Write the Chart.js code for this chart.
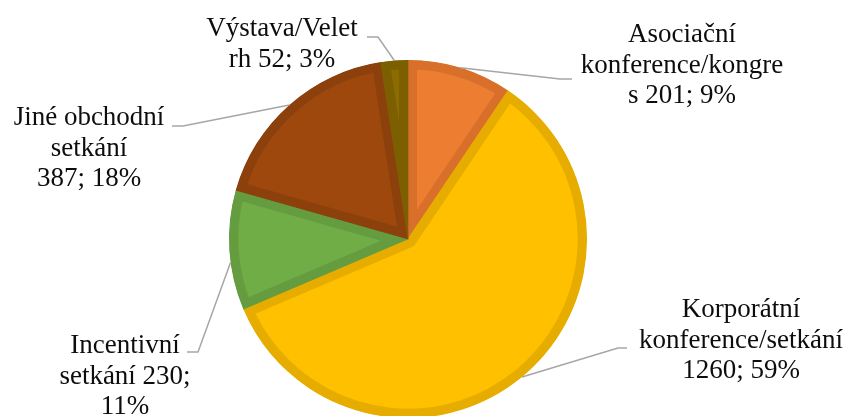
<!DOCTYPE html>
<html>
<head>
<meta charset="utf-8">
<script src="https://cdn.jsdelivr.net/npm/chart.js@4.4.1/dist/chart.umd.min.js"></script>
<style>
  html, body { margin: 0; padding: 0; background: #fff; }
  #wrap { width: 850px; height: 416px; }
</style>
</head>
<body>
<div id="wrap"><canvas id="pieChart" width="850" height="416"></canvas></div>
<script>
// data
const categories = [
  'Asociační konference/kongres',
  'Korporátní konference/setkání',
  'Incentivní setkání',
  'Jiné obchodní setkání',
  'Výstava/Veletrh'
];
const values = [201, 1260, 230, 387, 52];
const percentLabels = ['9%', '59%', '11%', '18%', '3%'];

// label text wrapped as in the picture
const labelLines = [
  ['Asociační', 'konference/kongre', 's 201; 9%'],
  ['Korporátní', 'konference/setkání', '1260; 59%'],
  ['Incentivní', 'setkání 230;', '11%'],
  ['Jiné obchodní', 'setkání', '387; 18%'],
  ['Výstava/Velet', 'rh 52; 3%']
];

const fills = ['#ED7D31', '#FFC000', '#70AD47', '#9E480E', '#8C6B00'];
const borders = ['#D86F2B', '#E6AD00', '#659C40', '#8C400C', '#7C5F00'];

// where the labels sit (text centre x, first baseline) and leader line bends
const labelLayout = [
  { x: 682, y: 42, elbow: [560, 79], end: [572, 79], t: 0.5 },
  { x: 741, y: 317, elbow: [618, 348], end: [627, 348], t: 0.5 },
  { x: 125, y: 353, elbow: [198, 352], end: [187, 352], t: 0.4 },
  { x: 89, y: 125, elbow: [183, 126], end: [172, 126], t: 0.5 },
  { x: 282, y: 36, elbow: [378, 37], end: [367, 37], t: 0.5 }
];

const labelPlugin = {
  id: 'pieLabels',
  afterDraw(chart) {
    const ctx = chart.ctx;
    const arcs = chart.getDatasetMeta(0).data;
    ctx.save();
    arcs.forEach((arc, i) => {
      const p = arc.getProps(['x', 'y', 'startAngle', 'endAngle', 'outerRadius']);
      const lay = labelLayout[i];
      const a = p.startAngle + (p.endAngle - p.startAngle) * lay.t;
      const ax = p.x + Math.cos(a) * p.outerRadius;
      const ay = p.y + Math.sin(a) * p.outerRadius;

      ctx.strokeStyle = '#A6A6A6';
      ctx.lineWidth = 1.5;
      ctx.beginPath();
      ctx.moveTo(ax, ay);
      ctx.lineTo(lay.elbow[0], lay.elbow[1]);
      ctx.lineTo(lay.end[0], lay.end[1]);
      ctx.stroke();

      ctx.fillStyle = '#0d0d0d';
      ctx.font = '27px "Liberation Serif", "Times New Roman", serif';
      ctx.textAlign = 'center';
      ctx.textBaseline = 'alphabetic';
      labelLines[i].forEach((line, k) => {
        ctx.fillText(line, lay.x, lay.y + k * 30.5);
      });
    });
    ctx.restore();
  }
};

const ctx = document.getElementById('pieChart').getContext('2d');
const pieChart = new Chart(ctx, {
  type: 'pie',
  data: {
    labels: categories,
    datasets: [{
      data: values,
      backgroundColor: fills,
      borderColor: borders,
      borderWidth: 9,
      borderAlign: 'inner',
      radius: 179
    }]
  },
  options: {
    responsive: false,
    animation: false,
    layout: { padding: { top: 62, bottom: 0, left: 0, right: 34 } },
    plugins: {
      legend: { display: false },
      tooltip: { enabled: false }
    }
  },
  plugins: [labelPlugin]
});
</script>
</body>
</html>
